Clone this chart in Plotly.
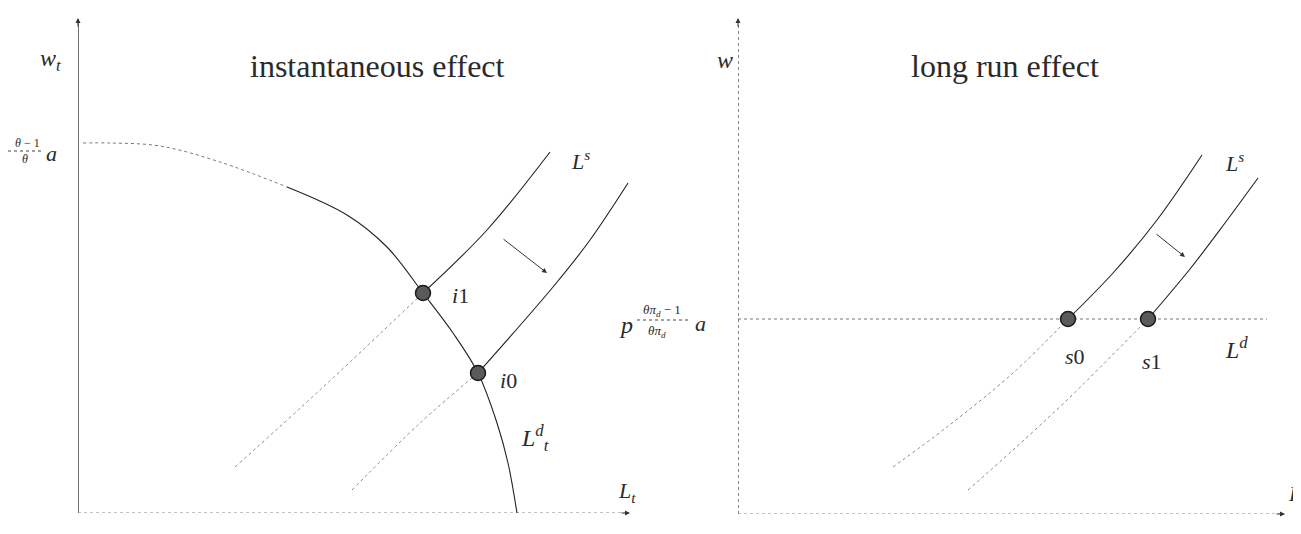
import plotly.graph_objects as go

W, H = 1301, 534
OFF = 8                      # page body margin around the plot div
FW, FH = W - 2 * OFF, H - 2 * OFF
SERIF = "Liberation Serif"

# ---------------- data (panel units, origin at the axis corner) ----------------
# left panel: instantaneous effect
ld_x = [5, 32, 82, 142, 209, 269, 309, 345, 375, 400, 419, 430, 439]
ld_y = [370, 370, 367, 351, 326, 298, 266, 220, 180, 140, 90, 50, 0]

ls_old_x = [157, 242, 345, 409, 472]
ls_old_y = [46, 123, 220, 283, 361]
ls_new_x = [274, 342, 400, 475, 512, 550]
ls_new_y = [23, 90, 140, 226, 273, 330]

eq_left_x = [345, 400]
eq_left_y = [220, 140]

# right panel: long run effect
ld_long_x = [0, 529]
ld_long_y = [195, 195]

lr_old_x = [155, 209, 275, 330, 375, 419, 464]
lr_old_y = [47, 87, 141, 195, 241, 294, 359]
lr_new_x = [230, 275, 329, 410, 452, 487, 520]
lr_new_y = [24, 64, 114, 195, 245, 291, 336]

eq_right_x = [330, 410]
eq_right_y = [195, 195]


def px(x):
    return (x - OFF) / FW


def py(y):
    return 1 - (y - OFF) / FH


fig = go.Figure()

# two panels, 1 unit = 1 px
fig.update_layout(
    xaxis=dict(domain=[px(78), px(638)], range=[0, 560], visible=False),
    yaxis=dict(domain=[py(513), py(13)], range=[0, 500], visible=False),
    xaxis2=dict(domain=[px(738), px(1288)], range=[0, 550], visible=False),
    yaxis2=dict(domain=[py(514), py(14)], range=[0, 500], visible=False, anchor="x2"),
)


def line(x, y, xa="x", ya="y", color="#222", dash="solid", width=1.1, shape="spline"):
    fig.add_trace(go.Scatter(x=x, y=y, xaxis=xa, yaxis=ya, mode="lines",
                             line=dict(color=color, dash=dash, width=width, shape=shape),
                             showlegend=False, hoverinfo="skip"))


def split_line(x, y, k, xa="x", ya="y"):
    # lower part renders light / dotted in the reference, upper part solid
    line(x[:k + 1], y[:k + 1], xa, ya, color="#888", dash="dot", width=1)
    line(x[k:], y[k:], xa, ya)


# ---------------------------------- axes ----------------------------------
line([0, 0], [0, 493], color="#222", width=1.3, shape="linear")
line([0, 547], [0, 0], color="#888", dash="dot", width=1.2, shape="linear")
line([0, 0], [0, 494], "x2", "y2", color="#444", dash="dot", width=1.3, shape="linear")
line([0, 543], [0, 0], "x2", "y2", color="#888", dash="dot", width=1.2, shape="linear")

arrows = [("x", "y", 0, 485, 0, 495), ("x", "y", 542, 0, 552, 0),
          ("x2", "y2", 0, 486, 0, 496), ("x2", "y2", 537, 0, 547, 0)]
for xa, ya, x0, y0, x1, y1 in arrows:
    fig.add_annotation(x=x1, y=y1, ax=x0, ay=y0, xref=xa, yref=ya, axref=xa, ayref=ya,
                       showarrow=True, arrowhead=2, arrowsize=1, arrowwidth=1,
                       arrowcolor="#333", text="")

# ---------------------------------- left panel ----------------------------------
line(ld_x[:5], ld_y[:5], color="#777", dash="dot", width=1)
line(ld_x[4:], ld_y[4:])
split_line(ls_old_x, ls_old_y, 2)
split_line(ls_new_x, ls_new_y, 2)

fig.add_trace(go.Scatter(x=eq_left_x, y=eq_left_y, mode="markers", showlegend=False,
                         marker=dict(size=15, color="#5a5a5a", line=dict(color="#1a1a1a", width=1.5)),
                         hoverinfo="skip"))

fig.add_annotation(x=469, y=240, ax=424, ay=275, xref="x", yref="y", axref="x", ayref="y",
                   showarrow=True, arrowhead=2, arrowsize=1, arrowwidth=1, arrowcolor="#333", text="")

# ---------------------------------- right panel ----------------------------------
line(ld_long_x, ld_long_y, "x2", "y2", color="#777", dash="dot", width=1.1, shape="linear")
split_line(lr_old_x, lr_old_y, 3, "x2", "y2")
split_line(lr_new_x, lr_new_y, 3, "x2", "y2")

fig.add_trace(go.Scatter(x=eq_right_x, y=eq_right_y, xaxis="x2", yaxis="y2", mode="markers",
                         showlegend=False, hoverinfo="skip",
                         marker=dict(size=15, color="#5a5a5a", line=dict(color="#1a1a1a", width=1.5))))

fig.add_annotation(x=447, y=257, ax=417, ay=281, xref="x2", yref="y2", axref="x2", ayref="y2",
                   showarrow=True, arrowhead=2, arrowsize=1, arrowwidth=1, arrowcolor="#333", text="")


# ---------------------------------- texts ----------------------------------
def label(x, y, text, size=22, anchor="center"):
    fig.add_annotation(x=px(x), y=py(y), xref="paper", yref="paper", text=text,
                       showarrow=False, xanchor=anchor, yanchor="middle",
                       font=dict(family=SERIF, size=size, color="#2a2a2a"))


label(377, 66, "instantaneous effect", size=32)
label(1005, 66, "long run effect", size=32)

label(50, 60, "<i>w</i><sub><i>t</i></sub>", size=24)
label(725, 60, "<i>w</i>", size=24)

# (theta-1)/theta a
label(27, 143, "<i>θ</i> − 1", size=12)
label(25, 159, "<i>θ</i>", size=12)
fig.add_shape(type="line", xref="paper", yref="paper", x0=px(8), x1=px(42), y0=py(151), y1=py(151),
              line=dict(color="#444", width=1, dash="dot"))
label(51, 153, "<i>a</i>", size=22)

# p^{(theta pi_d - 1)/(theta pi_d)} a
label(626, 325, "<i>p</i>", size=24)
label(662, 310, "<i>θπ</i><sub><i>d</i></sub> − 1", size=13)
label(657, 331, "<i>θπ</i><sub><i>d</i></sub>", size=13)
fig.add_shape(type="line", xref="paper", yref="paper", x0=px(637), x1=px(688), y0=py(320), y1=py(320),
              line=dict(color="#444", width=1, dash="dot"))
label(700, 323, "<i>a</i>", size=22)

label(460, 295, "<i>i</i>1", size=22)
label(508, 380, "<i>i</i>0", size=22)
label(580, 160, "<i>L</i><sup><i>s</i></sup>", size=22)
label(535, 438, "<i>L</i><sup><i>d</i></sup><sub><i>t</i></sub>", size=24)
label(627, 492, "<i>L</i><sub><i>t</i></sub>", size=22)

label(1075, 356, "<i>s</i>0", size=22)
label(1152, 361, "<i>s</i>1", size=22)
label(1234, 162, "<i>L</i><sup><i>s</i></sup>", size=22)
label(1236, 348, "<i>L</i><sup><i>d</i></sup>", size=24)
label(1286, 493, "<i>L</i>", size=22, anchor="left")

fig.update_layout(width=FW, height=FH, margin=dict(l=0, r=0, t=0, b=0),
                  plot_bgcolor="white", paper_bgcolor="white", showlegend=False)

fig.write_html("out.html")
